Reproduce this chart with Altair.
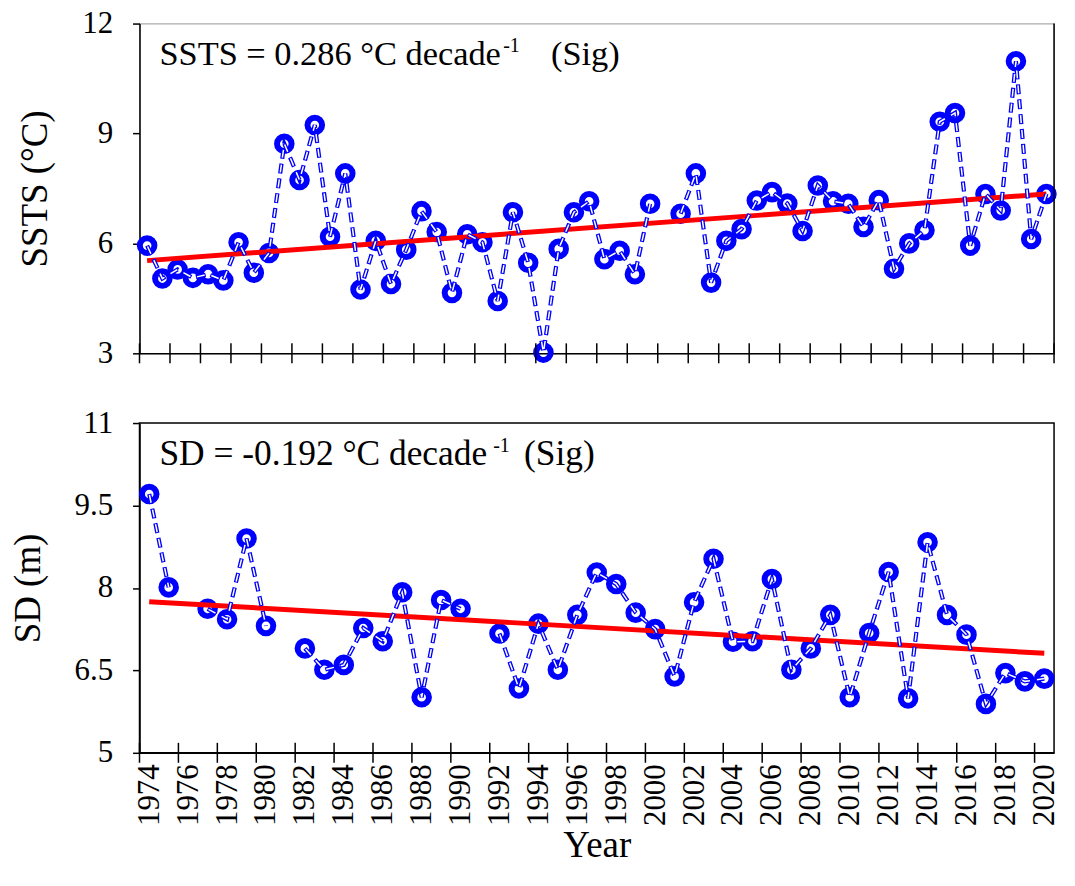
import altair as alt
import pandas as pd

# ------------------------------------------------------------------ data
ssts_years = list(range(1961, 2021))
ssts_values = [5.94, 5.04, 5.29, 5.06, 5.16, 4.99, 6.03, 5.20, 5.74, 8.72,
               7.73, 9.23, 6.18, 7.91, 4.74, 6.07, 4.89, 5.83, 6.88, 6.31,
               4.65, 6.25, 6.03, 4.43, 6.85, 5.47, 3.02, 5.85, 6.85, 7.15,
               5.57, 5.80, 5.16, 7.08, None, 6.81, 7.91, 4.93, 6.07, 6.39,
               7.17, 7.40, 7.09, 6.34, 7.58, 7.15, 7.08, 6.45, 7.18, 5.31,
               6.00, 6.36, 9.32, 9.56, 5.94, 7.35, 6.90, 10.97, 6.12, 7.35]
ssts_trend_years = [1961, 2020]
ssts_trend_values = [5.53, 7.35]

sd_years = list(range(1974, 2021))
sd_values = [9.71, 8.01, None, 7.62, 7.43, 8.90, 7.31, None, 6.90, 6.51,
             6.60, 7.27, 7.03, 7.92, 6.01, 7.78, 7.62, None, 7.17, 6.17,
             7.35, 6.51, 7.51, 8.28, 8.07, 7.55, 7.25, 6.39, 7.74, 8.53,
             7.02, 7.03, 8.16, 6.51, 6.90, 7.51, 6.01, 7.18, 8.29, 5.99,
             8.83, 7.51, 7.15, 5.89, 6.45, 6.30, 6.35]
sd_trend_years = [1974, 2020]
sd_trend_values = [7.75, 6.81]

ssts_xdomain = [1960.5, 2020.5]
sd_xdomain = [1973.5, 2020.5]
ssts_xticks = [1960.5 + 2 * k for k in range(31)]
sd_xticks = [1973.5 + 2 * k for k in range(24)]
sd_xlabels = list(range(1974, 2021, 2))
ssts_ydomain = [3, 12]
sd_ydomain = [5, 11]
ssts_yticks = [3, 6, 9, 12]
sd_yticks = [5, 6.5, 8, 9.5, 11]

ssts_note = ["SSTS = 0.286 °C decade", "-1", "(Sig)"]
sd_note = ["SD = -0.192 °C decade", "-1", "(Sig)"]

# ------------------------------------------------------------------ style
W, H = 918, 331
FONT = "Liberation Serif"
BLUE = "#0000FF"
RED = "#FF0000"


def series_frame(years, values):
    rows, seg = [], 0
    for yr, v in zip(years, values):
        if v is None:
            seg += 1
            continue
        rows.append({"year": yr, "value": v, "seg": seg})
    return pd.DataFrame(rows)


def panel(years, values, tyears, tvalues, xdom, xticks, ydom, yticks,
          ytitle, note, note_pos, bottom, edge_tick):
    df = series_frame(years, values)
    tdf = pd.DataFrame({"year": tyears, "value": tvalues})
    xs = alt.Scale(domain=xdom, nice=False, zero=False)
    ys = alt.Scale(domain=ydom, nice=False, zero=False)

    if bottom:
        xaxis = alt.Axis(values=sd_xlabels, labelAngle=270, format="d",
                         ticks=False, labelPadding=11, labelFontSize=31,
                         labelOverlap=False, labelFlush=False,
                         title="Year", titleFontSize=37, titlePadding=2)
    else:
        xaxis = alt.Axis(labels=False, ticks=False, title=None)
    yaxis = alt.Axis(values=yticks, format=".1~f", title=ytitle,
                     labelFontSize=31, labelPadding=20, tickSize=7,
                     titleFontSize=37, titlePadding=27)

    X = alt.X("year:Q", scale=xs, axis=xaxis)
    Y = alt.Y("value:Q", scale=ys, axis=yaxis)

    pts = alt.Chart(df).mark_point(
        shape="circle", filled=False, size=215, strokeWidth=6,
        color=BLUE, opacity=1
    ).encode(x=X, y=Y)

    line_outer = alt.Chart(df).mark_line(
        color=BLUE, strokeWidth=4.2, strokeDash=[10, 5]
    ).encode(x=X, y=Y, detail="seg:N")
    line_inner = alt.Chart(df).mark_line(
        color="white", strokeWidth=1.5, strokeDash=[8, 7], strokeDashOffset=-1
    ).encode(x=X, y=Y, detail="seg:N")

    trend = alt.Chart(tdf).mark_line(color=RED, strokeWidth=5).encode(
        x=X, y=Y)

    ticks = alt.Chart(pd.DataFrame({"year": xticks})).mark_rule(
        color="black", strokeWidth=1.5
    ).encode(x=X, y=alt.value(H - 10), y2=alt.value(H + 10))

    layers = [pts, trend, line_outer, line_inner, ticks]

    if edge_tick:
        border = alt.Chart(pd.DataFrame({"year": [xdom[1]]})).mark_rule(
            color="black", strokeWidth=1.5
        ).encode(x=X, y=alt.value(0), y2=alt.value(H))
        layers.append(border)

    for txt, (px, py, fs) in zip(note, note_pos):
        layers.append(
            alt.Chart(pd.DataFrame({"label": [txt]})).mark_text(
                font=FONT, fontSize=fs, align="left", baseline="alphabetic",
                color="black"
            ).encode(x=alt.value(px), y=alt.value(py), text="label:N"))

    return alt.layer(*layers).properties(width=W, height=H)


top = panel(ssts_years, ssts_values, ssts_trend_years, ssts_trend_values,
            ssts_xdomain, ssts_xticks, ssts_ydomain, ssts_yticks,
            "SSTS (°C)", ssts_note,
            [(20, 42, 34.5), (365, 29, 20), (413, 42, 34.5)],
            bottom=False, edge_tick=True).properties(
    view=alt.ViewBackground(stroke="#aaaaaa", strokeWidth=1.2))

bottom = panel(sd_years, sd_values, sd_trend_years, sd_trend_values,
               sd_xdomain, sd_xticks, sd_ydomain, sd_yticks,
               "SD (m)", sd_note,
               [(20, 42, 35.5), (355, 29, 20), (386, 42, 35.5)],
               bottom=True, edge_tick=False).properties(
    view=alt.ViewBackground(stroke="black", strokeWidth=1.5))

chart = alt.vconcat(top, bottom, spacing=70, bounds="flush").properties(
    padding={"left": 0, "top": -3, "right": 0, "bottom": 0},
    background="white"
).configure_axis(
    labelFont=FONT, titleFont=FONT, labelColor="black", titleColor="black",
    domainColor="black", tickColor="black", domainWidth=1.5, tickWidth=1.5,
    grid=False, titleFontWeight="normal"
)

chart.save("out.html", embed_options={"renderer": "svg", "actions": False})
